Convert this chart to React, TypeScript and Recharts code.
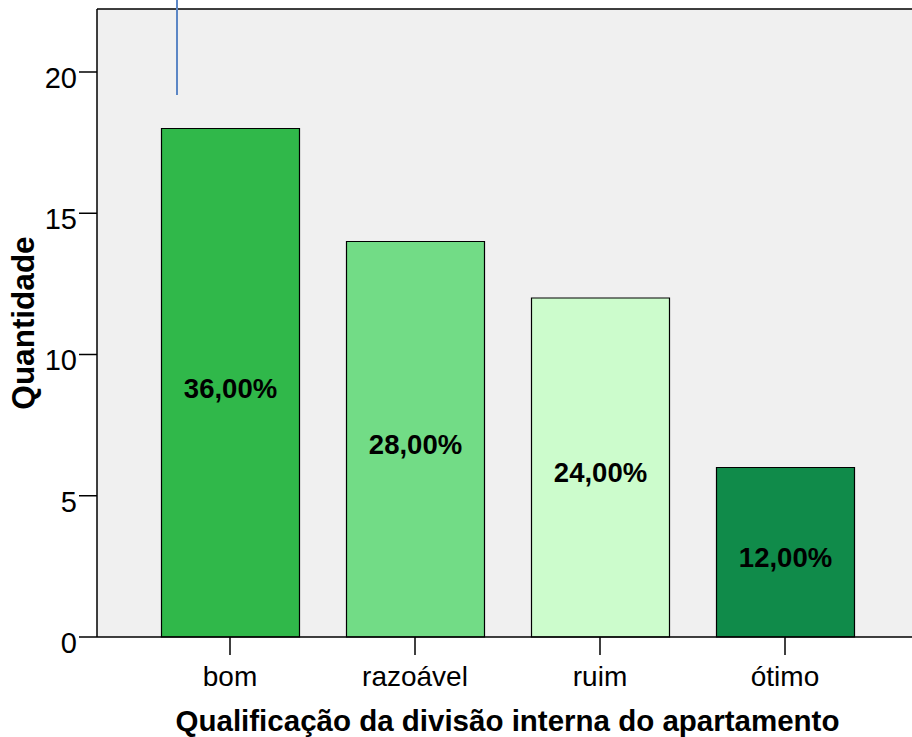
import { BarChart, Bar, Cell, XAxis, YAxis, CartesianGrid, ReferenceLine, LabelList } from 'recharts'

const categories = ['bom', 'razoável', 'ruim', 'ótimo']
const counts = [18, 14, 12, 6]
const percents = ['36,00%', '28,00%', '24,00%', '12,00%']
const barColors = ['#30b84a', '#72dc86', '#ccfccc', '#108b4a']
const yTicks = [0, 5, 10, 15, 20]
const yMax = 22.23

const FONT = '"Liberation Sans", Arial, Helvetica, sans-serif'

const data = categories.map((name, i) => ({ name, count: counts[i], pct: percents[i] }))

function XTick(props: any) {
  const { x, y, payload } = props
  return (
    <text x={x} y={y + 29} textAnchor="middle" fontFamily={FONT} fontSize={28} fill="#000">
      {payload.value}
    </text>
  )
}

function YTick(props: any) {
  const { x, y, payload } = props
  return (
    <text x={x} y={y + 16} textAnchor="end" fontFamily={FONT} fontSize={29} fill="#000">
      {payload.value}
    </text>
  )
}

function PctLabel(props: any) {
  const { x, y, width, height, value } = props
  return (
    <text
      x={x + width / 2}
      y={y + height / 2 + 15}
      textAnchor="middle"
      fontFamily={FONT}
      fontSize={27.5}
      fontWeight="bold"
      fill="#000"
    >
      {value}
    </text>
  )
}

export default function App() {
  return (
    <div style={{ position: 'absolute', left: 0, top: 0, width: 912, height: 737, overflow: 'hidden', background: '#fff' }}>
      <BarChart
        width={930}
        height={737}
        data={data}
        margin={{ top: 9, right: 12, left: 0, bottom: 0 }}
        barSize={138}
      >
        <CartesianGrid fill="#f0f0f0" horizontal={false} vertical={false} />
        <XAxis
          dataKey="name"
          height={100}
          padding={{ left: 40.5, right: 40.5 }}
          tickSize={18}
          tick={<XTick />}
          stroke="#000"
          tickLine={{ stroke: '#000', strokeWidth: 1.5 }}
          axisLine={{ stroke: '#000', strokeWidth: 1.5 }}
          label={{
            content: (p: any) => {
              const vb = p.viewBox
              return (
                <text
                  x={vb.x + vb.width / 2}
                  y={vb.y + 94}
                  textAnchor="middle"
                  fontFamily={FONT}
                  fontSize={29.5}
                  fontWeight="bold"
                  fill="#000"
                >
                  Qualificação da divisão interna do apartamento
                </text>
              )
            },
          }}
        />
        <YAxis
          width={97}
          domain={[0, yMax]}
          ticks={yTicks}
          tickSize={18}
          tick={<YTick />}
          stroke="#000"
          tickLine={{ stroke: '#000', strokeWidth: 1.5 }}
          axisLine={{ stroke: '#000', strokeWidth: 1.5 }}
          label={{
            content: (p: any) => {
              const vb = p.viewBox
              const cx = 34
              const cy = vb.y + vb.height / 2
              return (
                <text
                  x={cx}
                  y={cy}
                  transform={`rotate(-90 ${cx} ${cy})`}
                  textAnchor="middle"
                  fontFamily={FONT}
                  fontSize={31.5}
                  fontWeight="bold"
                  fill="#000"
                >
                  Quantidade
                </text>
              )
            },
          }}
        />
        <ReferenceLine y={yMax} stroke="#000" strokeWidth={1.5} />
        <Bar dataKey="count" stroke="#000" strokeWidth={1.2} isAnimationActive={false}>
          {data.map((d, i) => (
            <Cell key={d.name} fill={barColors[i]} />
          ))}
          <LabelList dataKey="pct" content={<PctLabel />} />
        </Bar>
      </BarChart>
      <div style={{ position: 'absolute', left: 176, top: 0, width: 2, height: 95, background: '#5b86c5' }} />
    </div>
  )
}
